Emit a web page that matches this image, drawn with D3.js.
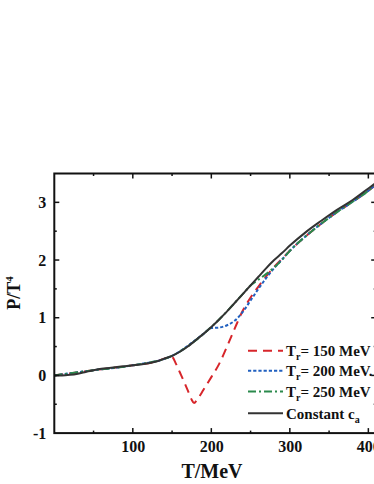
<!DOCTYPE html>
<html><head><meta charset="utf-8">
<script src="https://cdn.jsdelivr.net/npm/d3@7"></script>
<style>body{margin:0;background:#fff}svg{display:block}</style>
</head><body>
<svg id="c" width="374" height="484"></svg>
<script>
// ---- data ----
const constT = [0,10,20,30,40,50,60,70,80,90,100,110,120,130,140,150,160,170,180,190,200,210,220,230,240,250,260,270,280,290,300,320,340,360,380,400,410];
const constP = [0,0,0.01,0.03,0.06,0.09,0.115,0.13,0.145,0.16,0.175,0.19,0.21,0.24,0.29,0.34,0.41,0.5,0.61,0.72,0.84,0.97,1.11,1.26,1.41,1.56,1.71,1.86,2.0,2.12,2.25,2.48,2.68,2.87,3.04,3.24,3.34];

const tr150T = [0,50,100,130,140,150,155,160,165,170,175,178,182,190,200,210,220,230,240,250,260,270,280,290,300,320,340,360,380,400,410];
const tr150P = [0,0.09,0.175,0.24,0.29,0.32,0.2,0.05,-0.1,-0.26,-0.42,-0.48,-0.42,-0.25,-0.03,0.2,0.5,0.82,1.12,1.35,1.54,1.72,1.88,2.02,2.16,2.41,2.63,2.83,3.01,3.2,3.31];

const tr200T = [0,50,100,150,190,200,210,220,230,240,250,260,270,280,290,300,320,340,360,380,400,410];
const tr200P = [0,0.09,0.175,0.34,0.72,0.82,0.83,0.87,0.95,1.1,1.3,1.5,1.69,1.86,2.01,2.16,2.41,2.63,2.83,3.01,3.2,3.31];

const tr250T = [0,50,100,150,200,240,250,260,270,280,290,300,320,340,360,380,400,410];
const tr250P = [0,0.09,0.175,0.34,0.84,1.41,1.56,1.66,1.76,1.87,2.0,2.16,2.41,2.63,2.83,3.01,3.2,3.31];

const xTicks = [100,200,300,400];
const yTicks = [-1,0,1,2,3];
const legendLabels = ["= 150 MeV","= 200 MeV.","= 250 MeV","Constant c"];

// ---- chart ----
const svg = d3.select("#c");
const x = d3.scaleLinear().domain([0,410]).range([54.3, 376.2]);
const y = d3.scaleLinear().domain([-1,3.5]).range([433.1, 173.5]);
const font = "'Liberation Serif','Times New Roman',serif";

svg.append("defs").append("clipPath").attr("id","clip")
  .append("rect").attr("x",x(0)).attr("y",y(3.5)).attr("width",x(410)-x(0)).attr("height",y(-1)-y(3.5));

const line = d3.line().x(d=>x(d[0])).y(d=>y(d[1])).curve(d3.curveMonotoneX);
const series = [
  {T:tr150T,P:tr150P,color:"#d7262b",dash:"9,6"},
  {T:tr200T,P:tr200P,color:"#2160c0",dash:"3.2,2"},
  {T:tr250T,P:tr250P,color:"#2b8a4c",dash:"8,3,2,3"},
  {T:constT,P:constP,color:"#333333",dash:null}
];
const g = svg.append("g").attr("clip-path","url(#clip)");
series.forEach(s=>{
  g.append("path").datum(s.T.map((t,i)=>[t,s.P[i]]))
   .attr("d",line).attr("fill","none").attr("stroke",s.color)
   .attr("stroke-width",2).attr("stroke-dasharray",s.dash);
});

// axes (frame with inward ticks)
const minorX = d3.range(50,410,50);
const minorY = d3.range(-0.5,3.5,0.5);
const ax = svg.append("g").attr("transform",`translate(0,${y(-1)})`)
  .call(d3.axisBottom(x).tickValues(xTicks).tickSize(0).tickPadding(8).tickFormat(d=>String(d)));
const ay = svg.append("g").attr("transform",`translate(${x(0)},0)`)
  .call(d3.axisLeft(y).tickValues(yTicks).tickSize(0).tickPadding(8).tickFormat(d=>String(d)));
[ax,ay].forEach(a=>{a.select(".domain").remove(); a.selectAll("text").attr("font-family",font).attr("font-weight","bold").attr("font-size",16).attr("fill","#111");});

const fr = svg.append("g").attr("stroke","#111").attr("fill","none");
fr.append("rect").attr("x",x(0)).attr("y",y(3.5)).attr("width",x(410)-x(0)).attr("height",y(-1)-y(3.5)).attr("stroke-width",2);
minorX.forEach(v=>{
  const len = v%100===0?5:2.5;
  fr.append("line").attr("x1",x(v)).attr("x2",x(v)).attr("y1",y(-1)).attr("y2",y(-1)-len).attr("stroke-width",1.5);
  fr.append("line").attr("x1",x(v)).attr("x2",x(v)).attr("y1",y(3.5)).attr("y2",y(3.5)+len).attr("stroke-width",1.5);
});
minorY.forEach(v=>{
  const len = Number.isInteger(v)?5:2.5;
  fr.append("line").attr("x1",x(0)).attr("x2",x(0)+len).attr("y1",y(v)).attr("y2",y(v)).attr("stroke-width",1.5);
  fr.append("line").attr("x1",x(410)).attr("x2",x(410)-len).attr("y1",y(v)).attr("y2",y(v)).attr("stroke-width",1.5);
});

// axis titles
svg.append("text").attr("x",212).attr("y",478).attr("text-anchor","middle")
  .attr("font-family",font).attr("font-weight","bold").attr("font-size",20).attr("fill","#111").text("T/MeV");
const yl = svg.append("text").attr("transform","translate(20,293) rotate(-90)").attr("text-anchor","middle")
  .attr("font-family",font).attr("font-weight","bold").attr("font-size",18).attr("fill","#111");
yl.append("tspan").text("P/T");
yl.append("tspan").attr("font-size",11).attr("dy",-7).text("4");

// legend
const rowsY = [350.7,370.7,391.5,413.3];
series.forEach((s,i)=>{
  svg.append("line").attr("x1",248).attr("x2",283).attr("y1",rowsY[i]).attr("y2",rowsY[i])
    .attr("stroke",s.color).attr("stroke-width",2).attr("stroke-dasharray",s.dash);
  const t = svg.append("text").attr("x",286).attr("y",rowsY[i]+5.5)
    .attr("font-family",font).attr("font-weight","bold").attr("font-size",15).attr("fill","#111");
  if(i<3){
    t.append("tspan").text("T");
    t.append("tspan").attr("font-size",10).attr("dy",4).text("r");
    t.append("tspan").attr("dy",-4).text(legendLabels[i]);
  } else {
    t.append("tspan").text(legendLabels[i]);
    t.append("tspan").attr("font-size",10).attr("dy",4).text("a");
  }
});
</script>
</body></html>
